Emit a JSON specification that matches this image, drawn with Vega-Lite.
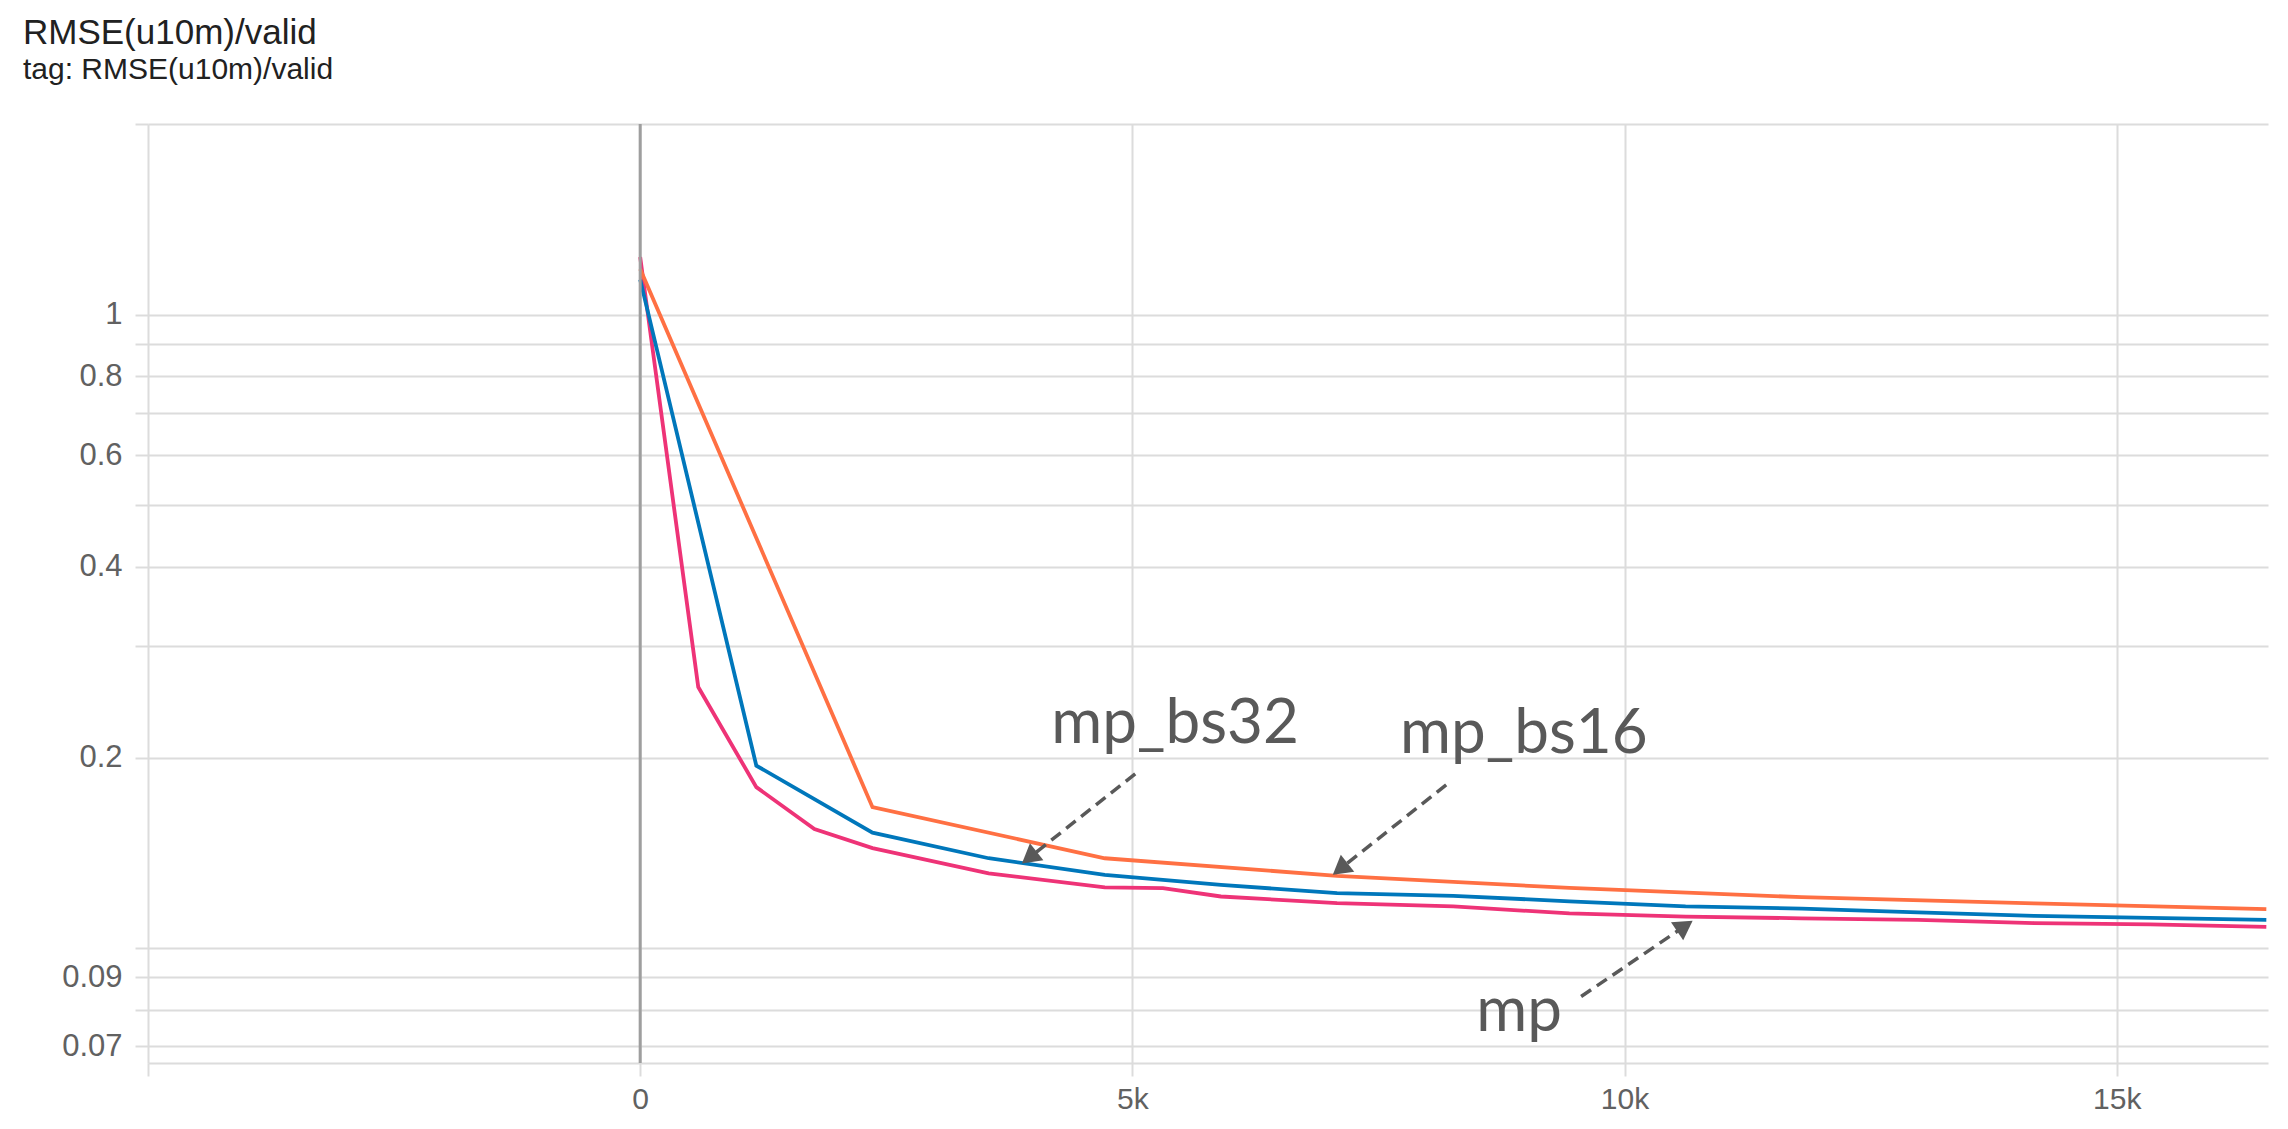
{
  "$schema": "https://vega.github.io/schema/vega-lite/v6.json",
  "width": 2120,
  "height": 939,
  "autosize": {"type": "none"},
  "padding": {"left": 148, "top": 124, "right": 20, "bottom": 66},
  "background": "white",
  "config": {"view": {"stroke": null}, "font": "Liberation Sans"},
  "title": {
    "text": "RMSE(u10m)/valid",
    "subtitle": "tag: RMSE(u10m)/valid",
    "anchor": "start",
    "frame": "group",
    "dx": -125,
    "offset": 38,
    "font": "Liberation Sans",
    "subtitleFont": "Liberation Sans",
    "fontSize": 35,
    "subtitleFontSize": 30,
    "fontWeight": "normal",
    "color": "#212121",
    "subtitleColor": "#212121",
    "subtitlePadding": 4
  },
  "datasets": {
    "runs": [
      {"run": "mp", "step": 0, "value": 1.233},
      {"run": "mp", "step": 590, "value": 0.2584},
      {"run": "mp", "step": 1180, "value": 0.1796},
      {"run": "mp", "step": 1770, "value": 0.1542},
      {"run": "mp", "step": 2360, "value": 0.1439},
      {"run": "mp", "step": 3540, "value": 0.1313},
      {"run": "mp", "step": 4720, "value": 0.1248},
      {"run": "mp", "step": 5310, "value": 0.1244},
      {"run": "mp", "step": 5900, "value": 0.1207},
      {"run": "mp", "step": 7080, "value": 0.1178},
      {"run": "mp", "step": 8260, "value": 0.1164},
      {"run": "mp", "step": 9440, "value": 0.1135},
      {"run": "mp", "step": 10620, "value": 0.1122},
      {"run": "mp", "step": 11800, "value": 0.1115},
      {"run": "mp", "step": 12980, "value": 0.1109},
      {"run": "mp", "step": 14160, "value": 0.1096},
      {"run": "mp", "step": 15340, "value": 0.1091},
      {"run": "mp", "step": 16520, "value": 0.1081},
      {"run": "mp_bs32", "step": 0, "value": 1.136},
      {"run": "mp_bs32", "step": 1180, "value": 0.1942},
      {"run": "mp_bs32", "step": 2360, "value": 0.1522},
      {"run": "mp_bs32", "step": 3540, "value": 0.1387},
      {"run": "mp_bs32", "step": 4720, "value": 0.1306},
      {"run": "mp_bs32", "step": 5900, "value": 0.1259},
      {"run": "mp_bs32", "step": 7080, "value": 0.1222},
      {"run": "mp_bs32", "step": 8260, "value": 0.1210},
      {"run": "mp_bs32", "step": 9440, "value": 0.1186},
      {"run": "mp_bs32", "step": 10620, "value": 0.1164},
      {"run": "mp_bs32", "step": 11800, "value": 0.1155},
      {"run": "mp_bs32", "step": 12980, "value": 0.1139},
      {"run": "mp_bs32", "step": 14160, "value": 0.1125},
      {"run": "mp_bs32", "step": 15340, "value": 0.1117},
      {"run": "mp_bs32", "step": 16520, "value": 0.1109},
      {"run": "mp_bs16", "step": 0, "value": 1.181},
      {"run": "mp_bs16", "step": 2360, "value": 0.1670},
      {"run": "mp_bs16", "step": 4720, "value": 0.1387},
      {"run": "mp_bs16", "step": 7080, "value": 0.1301},
      {"run": "mp_bs16", "step": 9440, "value": 0.1245},
      {"run": "mp_bs16", "step": 11800, "value": 0.1204},
      {"run": "mp_bs16", "step": 14160, "value": 0.1177},
      {"run": "mp_bs16", "step": 16520, "value": 0.1153}
    ],
    "notes": [
      {"text": "mp_bs32", "step": 4176, "value": 0.2110},
      {"text": "mp_bs16", "step": 7720, "value": 0.2032},
      {"text": "mp", "step": 8493, "value": 0.0739}
    ],
    "arrows": [
      {"run": "mp_bs32", "step": 5029, "value": 0.1885, "step2": 3953, "value2": 0.1390},
      {"run": "mp_bs16", "step": 8188, "value": 0.1811, "step2": 7111, "value2": 0.1334},
      {"run": "mp", "step": 9559, "value": 0.0839, "step2": 10613, "value2": 0.1084}
    ],
    "zero": [{"step": 0}]
  },
  "layer": [
    {
      "data": {"name": "runs"},
      "mark": {"type": "line", "strokeWidth": 3.8, "clip": true, "interpolate": "linear"},
      "encoding": {
        "x": {
          "field": "step", "type": "quantitative",
          "scale": {"domain": [-5000, 16537], "nice": false, "zero": false},
          "axis": {
            "title": null,
            "values": [-5000, 0, 5000, 10000, 15000],
            "labelExpr": "datum.value < 0 ? '' : (datum.value == 0 ? '0' : (datum.value / 1000) + 'k')",
            "grid": true, "gridColor": "#dcdcdc", "gridWidth": 2,
            "ticks": true, "tickColor": "#dcdcdc", "tickWidth": 2, "tickSize": 13,
            "domain": true, "domainColor": "#dcdcdc", "domainWidth": 2,
            "labelFontSize": 30, "labelColor": "#616161", "labelPadding": 8,
            "labelFont": "Liberation Sans"
          }
        },
        "y": {
          "field": "value", "type": "quantitative",
          "scale": {"type": "log", "domain": [0.0659, 2], "nice": false},
          "axis": {
            "title": null,
            "values": [2, 1, 0.9, 0.8, 0.7, 0.6, 0.5, 0.4, 0.3, 0.2, 0.1, 0.09, 0.08, 0.07],
            "format": "~g",
            "labelExpr": "indexof([1, 0.8, 0.6, 0.4, 0.2, 0.09, 0.07], datum.value) >= 0 ? datum.label : ''",
            "grid": true, "gridColor": "#dcdcdc", "gridWidth": 2,
            "ticks": true, "tickColor": "#dcdcdc", "tickWidth": 2, "tickSize": 13,
            "domain": false,
            "labelFontSize": 31, "labelColor": "#616161", "labelPadding": 13,
            "labelFont": "Liberation Sans"
          }
        },
        "color": {
          "field": "run", "type": "nominal",
          "scale": {"domain": ["mp_bs16", "mp_bs32", "mp"], "range": ["#ff7043", "#0077bb", "#ee3377"]},
          "legend": null
        },
        "order": {"field": "step", "type": "quantitative"}
      }
    },
    {
      "data": {"name": "zero"},
      "mark": {"type": "rule", "color": "#9e9e9e", "strokeWidth": 3},
      "encoding": {
        "x": {"field": "step", "type": "quantitative"}
      }
    },
    {
      "data": {"name": "arrows"},
      "mark": {"type": "rule", "color": "#595959", "strokeWidth": 3.5, "strokeDash": [12, 7]},
      "encoding": {
        "x": {"field": "step", "type": "quantitative"},
        "y": {"field": "value", "type": "quantitative"},
        "x2": {"field": "step2"},
        "y2": {"field": "value2"}
      }
    },
    {
      "data": {"name": "arrows"},
      "transform": [{"filter": "datum.run != 'mp'"}],
      "mark": {"type": "point", "shape": "triangle-up", "filled": true, "opacity": 1, "color": "#595959", "size": 470, "angle": 231.7},
      "encoding": {
        "x": {"field": "step2", "type": "quantitative"},
        "y": {"field": "value2", "type": "quantitative"}
      }
    },
    {
      "data": {"name": "arrows"},
      "transform": [{"filter": "datum.run == 'mp'"}],
      "mark": {"type": "point", "shape": "triangle-up", "filled": true, "opacity": 1, "color": "#595959", "size": 470, "angle": 55.8},
      "encoding": {
        "x": {"field": "step2", "type": "quantitative"},
        "y": {"field": "value2", "type": "quantitative"}
      }
    },
    {
      "data": {"name": "notes"},
      "mark": {"type": "text", "font": "Lato", "fontSize": 62, "color": "#595959", "align": "left", "baseline": "alphabetic"},
      "encoding": {
        "x": {"field": "step", "type": "quantitative"},
        "y": {"field": "value", "type": "quantitative"},
        "text": {"field": "text"}
      }
    }
  ]
}
